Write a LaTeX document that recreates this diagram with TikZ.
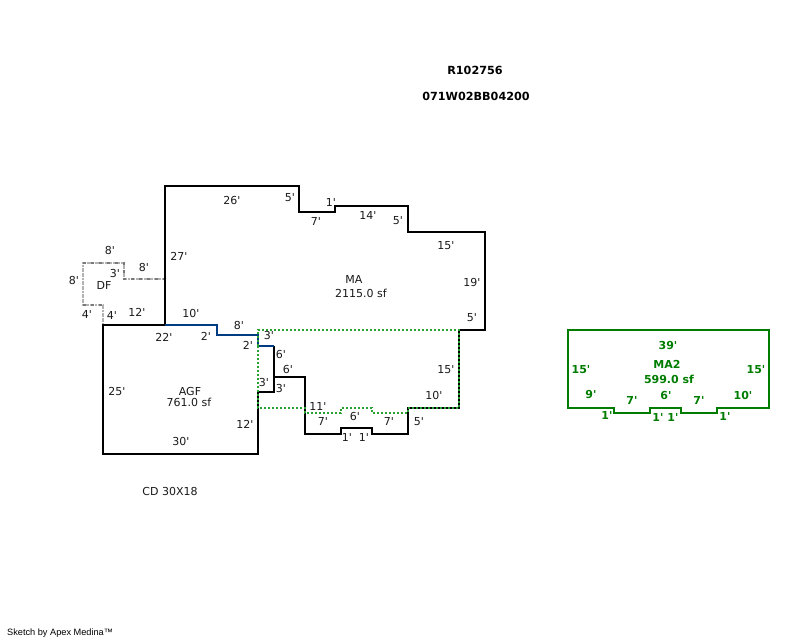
\documentclass[tikz,border=0pt]{standalone}
\usepackage{fontspec}
\newfontfamily\planface{DejaVu Sans}
\newfontfamily\smallface{Liberation Sans}
\definecolor{wallblue}{RGB}{0,60,130}
\definecolor{dotgreen}{RGB}{40,160,50}
\definecolor{magreen}{RGB}{0,125,0}
\begin{document}
\begin{tikzpicture}[x=1pt,y=-1pt,
  wall/.style={draw=black,line width=2.2pt,line join=miter},
  bluewall/.style={draw=wallblue,line width=2.2pt},
  greenwall/.style={draw=magreen,line width=2.2pt},
  dotline/.style={draw=dotgreen,line width=2.2pt,dash pattern=on 2pt off 2pt},
  dfback/.style={draw=black!30,line width=2.4pt,dash pattern=on 2pt off 0.6pt},
  dfdots/.style={draw=black!52,line width=2.4pt,dash pattern=on 3pt off 5pt},
  lab/.style={inner sep=0pt,font=\planface\fontsize{11}{13}\selectfont,text=black!90},
  glab/.style={inner sep=0pt,font=\planface\fontsize{11}{13}\selectfont\bfseries,text=magreen},
  head/.style={inner sep=0pt,font=\planface\fontsize{11.2}{13}\selectfont\bfseries,text=black}]
\useasboundingbox (0,0) rectangle (800,640);
% DF
\draw[dfback] (103,325)--(103,305)--(83,305)--(83,263)--(124,263)--(124,279)--(165,279);
\draw[dfdots] (83,305)--(103,305);
\draw[dfdots] (83,263)--(124,263)--(124,279)--(165,279);
% main outline
\draw[wall] (165,325)--(165,186)--(299,186)--(299,212)--(335,212)--(335,206)--(408,206)--(408,232)--(485,232)--(485,330)--(459,330)--(459,408)--(408,408)--(408,434)--(372,434)--(372,428)--(341,428)--(341,434)--(305,434)--(305,377)--(274,377)--(274,392)--(258,392)--(258,454)--(103,454)--(103,325)--(165,325);
\draw[wall] (274,377)--(274,346);
\draw[bluewall] (165,325)--(217,325)--(217,335)--(258,335)--(258,346)--(274,346);
% green dotted overlay
\draw[dotline] (258,346)--(258,330)--(459,330)--(459,408)--(408,408)--(408,413)--(372,413)--(372,408)--(341,408)--(341,413)--(305,413)--(305,408)--(258,408)--(258,346);
% MA2
\draw[greenwall] (568,330)--(769,330)--(769,408)--(717,408)--(717,413)--(681,413)--(681,408)--(650,408)--(650,413)--(614,413)--(614,408)--(568,408)--cycle;
% headings
\node[head] (h1) at (475,70) {R102756};
\node[head] (h2) at (476,96) {071W02BB04200};
% main labels
\node[lab] (a1) at (232,200) {26'};
\node[lab] (a2) at (290,198) {5'};
\node[lab] (a3) at (316,221) {7'};
\node[lab] (a4) at (331,202) {1'};
\node[lab] (a5) at (368,215) {14'};
\node[lab] (a6) at (398,221) {5'};
\node[lab] (a7) at (446,246) {15'};
\node[lab] (a8) at (179,256) {27'};
\node[lab] (a9) at (354,279) {MA};
\node[lab] (a10) at (361,293) {2115.0 sf};
\node[lab] (a11) at (472,282) {19'};
\node[lab] (a12) at (472,318) {5'};
\node[lab] (a13) at (191,313) {10'};
\node[lab] (a14) at (239,325) {8'};
\node[lab] (a15) at (269,335) {3'};
\node[lab] (a16) at (206,336) {2'};
\node[lab] (a17) at (164,337) {22'};
\node[lab] (a18) at (248,345) {2'};
\node[lab] (a19) at (281,354) {6'};
\node[lab] (a20) at (288,369) {6'};
\node[lab] (a21) at (264,382) {3'};
\node[lab] (a22) at (281,388) {3'};
\node[lab] (a23) at (190,391) {AGF};
\node[lab] (a24) at (189,402) {761.0 sf};
\node[lab] (a25) at (117,391) {25'};
\node[lab] (a26) at (245,424) {12'};
\node[lab] (a27) at (181,441) {30'};
\node[lab] (a28) at (318,406) {11'};
\node[lab] (a29) at (323,421) {7'};
\node[lab] (a30) at (355,416) {6'};
\node[lab] (a31) at (389,421) {7'};
\node[lab] (a32) at (347,437) {1'};
\node[lab] (a33) at (364,437) {1'};
\node[lab] (a34) at (419,422) {5'};
\node[lab] (a35) at (434,395) {10'};
\node[lab] (a36) at (446,370) {15'};
\node[lab] (a37) at (104,285) {DF};
\node[lab] (a38) at (110,250) {8'};
\node[lab] (a39) at (74,280) {8'};
\node[lab] (a40) at (115,273) {3'};
\node[lab] (a41) at (144,267) {8'};
\node[lab] (a42) at (87,314) {4'};
\node[lab] (a43) at (112,315) {4'};
\node[lab] (a44) at (137,312) {12'};
\node[lab] (a45) at (170,491) {CD 30X18};
\node[inner sep=0pt,anchor=west,font=\smallface\fontsize{9.2}{11}\selectfont] (a46) at (7,633) {Sketch by Apex Medina™};
% MA2 labels
\node[glab] (b1) at (668,345) {39'};
\node[glab] (b2) at (667,364) {MA2};
\node[glab] (b3) at (669,379) {599.0 sf};
\node[glab] (b4) at (581,370) {15'};
\node[glab] (b5) at (756,370) {15'};
\node[glab] (b6) at (591,394) {9'};
\node[glab] (b7) at (632,400) {7'};
\node[glab] (b8) at (666,395) {6'};
\node[glab] (b9) at (699,400) {7'};
\node[glab] (b10) at (743,395) {10'};
\node[glab] (b11) at (607,415) {1'};
\node[glab] (b12) at (658,417) {1'};
\node[glab] (b13) at (673,417) {1'};
\node[glab] (b14) at (725,416) {1'};
\end{tikzpicture}
\end{document}
